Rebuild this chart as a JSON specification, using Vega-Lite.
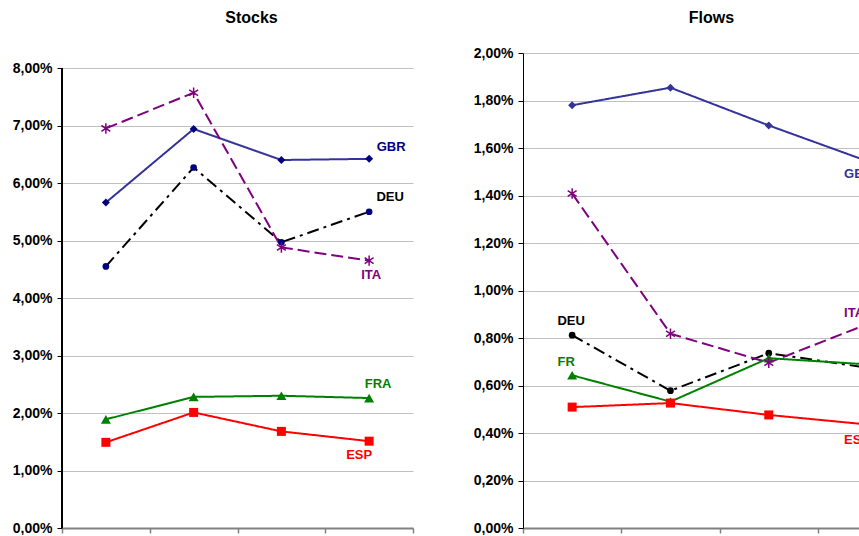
{
  "$schema": "https://vega.github.io/schema/vega-lite/v6.json",
  "padding": {"left": 12, "top": 10, "right": 0, "bottom": 0},
  "background": "white",
  "datasets": {
    "stocks": [
      {"series": "GBR", "period": 1, "value": 0.0566},
      {"series": "GBR", "period": 2, "value": 0.0694},
      {"series": "GBR", "period": 3, "value": 0.0640},
      {"series": "GBR", "period": 4, "value": 0.0642},
      {"series": "DEU", "period": 1, "value": 0.0455},
      {"series": "DEU", "period": 2, "value": 0.0627},
      {"series": "DEU", "period": 3, "value": 0.0497},
      {"series": "DEU", "period": 4, "value": 0.0550},
      {"series": "ITA", "period": 1, "value": 0.0695},
      {"series": "ITA", "period": 2, "value": 0.0757},
      {"series": "ITA", "period": 3, "value": 0.0488},
      {"series": "ITA", "period": 4, "value": 0.0465},
      {"series": "FRA", "period": 1, "value": 0.0189},
      {"series": "FRA", "period": 2, "value": 0.0228},
      {"series": "FRA", "period": 3, "value": 0.0230},
      {"series": "FRA", "period": 4, "value": 0.0226},
      {"series": "ESP", "period": 1, "value": 0.0149},
      {"series": "ESP", "period": 2, "value": 0.0201},
      {"series": "ESP", "period": 3, "value": 0.0168},
      {"series": "ESP", "period": 4, "value": 0.0151}
    ],
    "flows": [
      {"series": "GBR", "period": 1, "value": 0.01780},
      {"series": "GBR", "period": 2, "value": 0.01854},
      {"series": "GBR", "period": 3, "value": 0.01695},
      {"series": "GBR", "period": 4, "value": 0.01545},
      {"series": "DEU", "period": 1, "value": 0.00812},
      {"series": "DEU", "period": 2, "value": 0.00578},
      {"series": "DEU", "period": 3, "value": 0.00736},
      {"series": "DEU", "period": 4, "value": 0.00675},
      {"series": "ITA", "period": 1, "value": 0.01408},
      {"series": "ITA", "period": 2, "value": 0.00818},
      {"series": "ITA", "period": 3, "value": 0.00696},
      {"series": "ITA", "period": 4, "value": 0.00858},
      {"series": "FRA", "period": 1, "value": 0.00643},
      {"series": "FRA", "period": 2, "value": 0.00532},
      {"series": "FRA", "period": 3, "value": 0.00715},
      {"series": "FRA", "period": 4, "value": 0.00689},
      {"series": "ESP", "period": 1, "value": 0.00509},
      {"series": "ESP", "period": 2, "value": 0.00526},
      {"series": "ESP", "period": 3, "value": 0.00476},
      {"series": "ESP", "period": 4, "value": 0.00436}
    ]
  },
  "config": {
    "locale": {"number": {"decimal": ",", "thousands": ".", "grouping": [3], "currency": ["", " €"]}},
    "view": {"stroke": null},
    "font": "Liberation Sans",
    "title": {"font": "Liberation Sans", "fontSize": 16, "fontWeight": "bold", "color": "#000000", "anchor": "middle", "baseline": "alphabetic"},
    "text": {"font": "Liberation Sans", "fontWeight": "bold", "fontSize": 13, "baseline": "middle", "align": "center"},
    "point": {"opacity": 1, "clip": true},
    "axisY": {
      "title": null, "grid": true, "gridColor": "#c0c0c0", "gridWidth": 1,
      "domainColor": "#000000", "domainWidth": 1, "tickColor": "#000000", "tickSize": 5, "tickWidth": 1,
      "labelFont": "Liberation Sans", "labelFontWeight": "bold", "labelFontSize": 14, "labelColor": "#000000", "labelPadding": 5, "format": ".2%"
    },
    "axisX": {
      "title": null, "grid": false, "labels": false, "domainColor": "#808080", "domainWidth": 2, "tickColor": "#808080", "tickSize": 5, "tickWidth": 1.5
    }
  },
  "spacing": 59,
  "hconcat": [
    {
      "title": {"text": "Stocks", "offset": 27, "dx": 14},
      "width": 351,
      "height": 475,
      "data": {"name": "stocks"},
      "encoding": {
        "x": {"field": "period", "type": "quantitative", "scale": {"domain": [0.5, 4.5], "nice": false, "zero": false}, "axis": {"values": [0.5, 1.5, 2.5, 3.5, 4.5]}},
        "y": {"field": "value", "type": "quantitative", "scale": {"domain": [0, 0.08261], "nice": false, "zero": false}, "axis": {"domain": false, "values": [0, 0.01, 0.02, 0.03, 0.04, 0.05, 0.06, 0.07, 0.08]}}
      },
      "layer": [
        {
          "mark": {"type": "rule", "color": "#000000", "strokeWidth": 1},
          "encoding": {
            "x": {"datum": 0.5, "type": "quantitative"},
            "y": {"datum": 0, "type": "quantitative"},
            "y2": {"datum": 0.08}
          }
        },
        {
          "mark": {"type": "line", "strokeWidth": 2, "clip": true},
          "encoding": {
            "stroke": {"field": "series", "type": "nominal", "legend": null, "scale": {"domain": ["GBR", "DEU", "ITA", "FRA", "ESP"], "range": ["#333399", "#000000", "#800080", "#008000", "#FF0000"]}},
            "strokeDash": {"field": "series", "type": "nominal", "legend": null, "scale": {"domain": ["GBR", "DEU", "ITA", "FRA", "ESP"], "range": [[1, 0], [12, 5, 3, 5], [12, 5], [1, 0], [1, 0]]}}
          }
        },
        {
          "transform": [{"filter": "datum.series === 'GBR'"}],
          "mark": {"type": "point", "filled": true, "shape": "diamond", "size": 64, "color": "#000080"},
          "encoding": {}
        },
        {
          "transform": [{"filter": "datum.series === 'DEU'"}],
          "mark": {"type": "point", "filled": true, "shape": "circle", "size": 45, "color": "#000080"},
          "encoding": {}
        },
        {
          "transform": [{"filter": "datum.series === 'FRA'"}],
          "mark": {"type": "point", "filled": true, "shape": "triangle-up", "size": 100, "color": "#008000"},
          "encoding": {}
        },
        {
          "transform": [{"filter": "datum.series === 'ESP'"}],
          "mark": {"type": "point", "filled": true, "shape": "square", "size": 81, "color": "#FF0000"},
          "encoding": {}
        },
        {
          "transform": [{"filter": "datum.series === 'ITA'"}],
          "mark": {"type": "point", "filled": false, "shape": "M0,-1L0,1M-0.85,-0.55L0.85,0.55M-0.85,0.55L0.85,-0.55", "size": 110, "stroke": "#800080", "strokeWidth": 1.5},
          "encoding": {}
        },
        {
          "transform": [{"filter": "datum.series === 'GBR' && datum.period === 4"}],
          "mark": {"type": "text", "text": "GBR", "dx": 22, "dy": -12, "color": "#000080"},
          "encoding": {}
        },
        {
          "transform": [{"filter": "datum.series === 'DEU' && datum.period === 4"}],
          "mark": {"type": "text", "text": "DEU", "dx": 21, "dy": -15, "color": "#000000"},
          "encoding": {}
        },
        {
          "transform": [{"filter": "datum.series === 'ITA' && datum.period === 4"}],
          "mark": {"type": "text", "text": "ITA", "dx": 2, "dy": 14, "color": "#800080"},
          "encoding": {}
        },
        {
          "transform": [{"filter": "datum.series === 'FRA' && datum.period === 4"}],
          "mark": {"type": "text", "text": "FRA", "dx": 9, "dy": -14, "color": "#008000"},
          "encoding": {}
        },
        {
          "transform": [{"filter": "datum.series === 'ESP' && datum.period === 4"}],
          "mark": {"type": "text", "text": "ESP", "dx": -10, "dy": 14, "color": "#FF0000"},
          "encoding": {}
        }
      ]
    },
    {
      "title": {"text": "Flows", "offset": 20, "dx": 20},
      "width": 337,
      "height": 475,
      "data": {"name": "flows"},
      "encoding": {
        "x": {"field": "period", "type": "quantitative", "scale": {"domain": [0.5, 3.928], "nice": false, "zero": false}, "axis": {"values": [0.5, 1.5, 2.5, 3.5]}},
        "y": {"field": "value", "type": "quantitative", "scale": {"domain": [0, 0.02], "nice": false}, "axis": {"values": [0, 0.002, 0.004, 0.006, 0.008, 0.01, 0.012, 0.014, 0.016, 0.018, 0.02]}}
      },
      "layer": [
        {
          "mark": {"type": "line", "strokeWidth": 2, "clip": true},
          "encoding": {
            "stroke": {"field": "series", "type": "nominal", "legend": null, "scale": {"domain": ["GBR", "DEU", "ITA", "FRA", "ESP"], "range": ["#333399", "#000000", "#800080", "#008000", "#FF0000"]}},
            "strokeDash": {"field": "series", "type": "nominal", "legend": null, "scale": {"domain": ["GBR", "DEU", "ITA", "FRA", "ESP"], "range": [[1, 0], [12, 5, 3, 5], [12, 5], [1, 0], [1, 0]]}}
          }
        },
        {
          "transform": [{"filter": "datum.series === 'GBR'"}],
          "mark": {"type": "point", "filled": true, "shape": "diamond", "size": 64, "color": "#333399"},
          "encoding": {}
        },
        {
          "transform": [{"filter": "datum.series === 'DEU'"}],
          "mark": {"type": "point", "filled": true, "shape": "circle", "size": 45, "color": "#000000"},
          "encoding": {}
        },
        {
          "transform": [{"filter": "datum.series === 'FRA'"}],
          "mark": {"type": "point", "filled": true, "shape": "triangle-up", "size": 100, "color": "#008000"},
          "encoding": {}
        },
        {
          "transform": [{"filter": "datum.series === 'ESP'"}],
          "mark": {"type": "point", "filled": true, "shape": "square", "size": 81, "color": "#FF0000"},
          "encoding": {}
        },
        {
          "transform": [{"filter": "datum.series === 'ITA'"}],
          "mark": {"type": "point", "filled": false, "shape": "M0,-1L0,1M-0.85,-0.55L0.85,0.55M-0.85,0.55L0.85,-0.55", "size": 110, "stroke": "#800080", "strokeWidth": 1.5},
          "encoding": {}
        },
        {
          "transform": [{"filter": "datum.series === 'DEU' && datum.period === 1"}],
          "mark": {"type": "text", "text": "DEU", "dx": -1, "dy": -14, "color": "#000000"},
          "encoding": {}
        },
        {
          "transform": [{"filter": "datum.series === 'FRA' && datum.period === 1"}],
          "mark": {"type": "text", "text": "FR", "dx": -6, "dy": -13, "color": "#008000"},
          "encoding": {}
        },
        {
          "transform": [{"filter": "datum.series === 'GBR' && datum.period === 4"}],
          "mark": {"type": "text", "text": "GBR", "align": "left", "dx": -23, "dy": 13, "color": "#333399", "clip": true},
          "encoding": {}
        },
        {
          "transform": [{"filter": "datum.series === 'ITA' && datum.period === 4"}],
          "mark": {"type": "text", "text": "ITA", "align": "left", "dx": -23, "dy": -11, "color": "#800080", "clip": true},
          "encoding": {}
        },
        {
          "transform": [{"filter": "datum.series === 'ESP' && datum.period === 4"}],
          "mark": {"type": "text", "text": "ESP", "align": "left", "dx": -23, "dy": 16, "color": "#FF0000", "clip": true},
          "encoding": {}
        }
      ]
    }
  ]
}
